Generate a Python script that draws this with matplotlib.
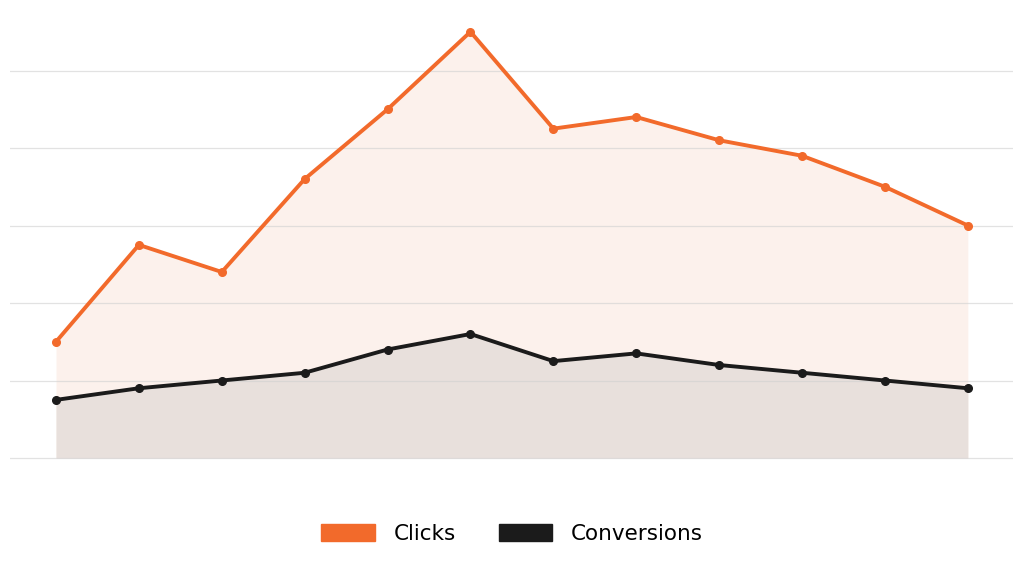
import matplotlib
matplotlib.use("Agg")
import matplotlib.pyplot as plt
from matplotlib.patches import Patch

plt.rcParams["font.family"] = ["DejaVu Sans"]

periods = list(range(12))
clicks = [150, 275, 240, 360, 450, 550, 425, 440, 410, 390, 350, 300]
conversions = [75, 90, 100, 110, 140, 160, 125, 135, 120, 110, 100, 90]
grid_ticks = [0, 100, 200, 300, 400, 500]
series_names = ["Clicks", "Conversions"]

orange = "#f26a2b"
dark = "#1b1b1b"

fig = plt.figure(figsize=(10.24, 5.64), dpi=100)
ax = fig.add_axes([10/1024, 1 - 462/564, 1003/1024, 462/564])

ax.fill_between(periods, clicks, 0, color="#fcf1ec", linewidth=0, zorder=1)
ax.fill_between(periods, conversions, 0, color="#e8e0dc", linewidth=0, zorder=1.1)
ax.plot(periods, clicks, color=orange, lw=2.8, marker="o", ms=5.5, zorder=3)
ax.plot(periods, conversions, color=dark, lw=2.8, marker="o", ms=5.5, zorder=3)

ax.set_xlim(-0.555, 11.545)
ax.set_ylim(-5.16, 591)
ax.set_yticks(grid_ticks)
ax.yaxis.grid(True, color="#d0d0d0", lw=0.9, alpha=0.6, zorder=2)
ax.set_axisbelow(False)
ax.tick_params(left=False, bottom=False, labelleft=False, labelbottom=False)
for s in ax.spines.values():
    s.set_visible(False)

handles = [Patch(color=orange), Patch(color=dark)]
fig.legend(handles, series_names, loc="center", bbox_to_anchor=(0.5, 1 - 534/564),
           ncol=2, frameon=False, fontsize=15.5, handlelength=2.5, handleheight=0.85,
           columnspacing=2.0, handletextpad=0.85)

fig.savefig("out.png", dpi=100)
